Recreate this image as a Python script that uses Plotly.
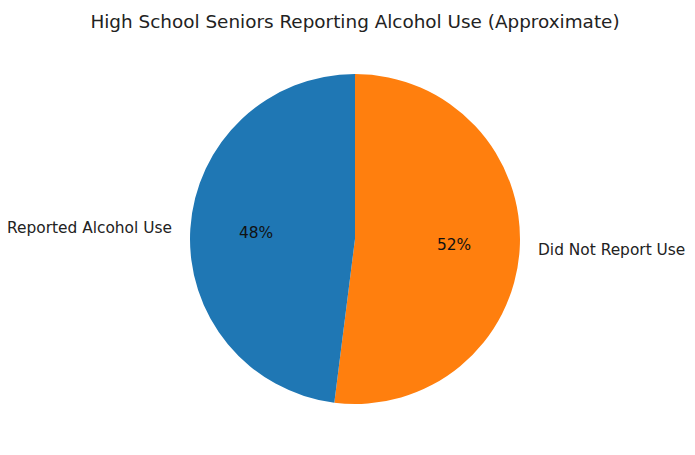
import math
import plotly.graph_objects as go

labels = ["Reported Alcohol Use", "Did Not Report Use"]
values = [48, 52]
colors = ["#1f77b4", "#ff7f0e"]
title = "High School Seniors Reporting Alcohol Use (Approximate)"

W, H = 695, 455
ml, mr, mt, mb = 7, 8, 66, 59
pw, ph = W - ml - mr, H - mt - mb
R = min(pw, ph) / 2.0

# plotly always puts the first slice just clockwise of 12 o'clock, so feed the
# slices in reverse order to get matplotlib's counterclockwise-from-top layout
fig = go.Figure(go.Pie(
    labels=labels[::-1], values=values[::-1], sort=False,
    direction="clockwise", rotation=0,
    marker=dict(colors=colors[::-1], line=dict(width=0)),
    textinfo="none", hoverinfo="label+percent", showlegend=False,
))

# label / percent positions derived from slice angles (matplotlib style)
total = sum(values)
start = 90.0
anns = []
for lab, v in zip(labels, values):
    span = 360.0 * v / total
    mid = math.radians(start + span / 2)
    start += span
    cx, cy = math.cos(mid), math.sin(mid)
    anns.append(dict(
        x=0.5 + 1.1 * R * cx / pw, y=0.5 + 1.1 * R * cy / ph,
        xref="paper", yref="paper", text=lab, showarrow=False,
        xanchor="right" if cx < 0 else "left", yanchor="middle",
        font=dict(size=15.4, color="#222222")))
    anns.append(dict(
        x=0.5 + 0.6 * R * cx / pw, y=0.5 + 0.6 * R * cy / ph,
        xref="paper", yref="paper", text=f"{round(100 * v / total)}%",
        showarrow=False, xanchor="center", yanchor="middle",
        font=dict(size=15.4, color="#111111")))

fig.update_layout(
    width=W, height=H,
    margin=dict(l=ml, r=mr, t=mt, b=mb),
    paper_bgcolor="white", plot_bgcolor="white",
    font=dict(family="DejaVu Sans", color="#222222"),
    title=dict(text=title, x=0.5, xref="paper", xanchor="center",
               y=1 - 14 / H, yref="container", yanchor="middle",
               font=dict(size=18.4, color="#222222")),
    annotations=anns,
)

fig.write_html("out.html")
